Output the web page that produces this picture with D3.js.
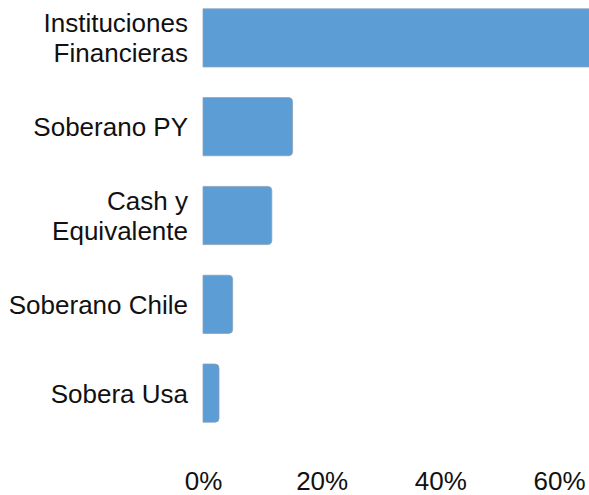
<!DOCTYPE html>
<html>
<head>
<meta charset="utf-8">
<script src="https://cdn.jsdelivr.net/npm/d3@7"></script>
<style>
  html, body { margin: 0; padding: 0; background: #ffffff; }
  text { font-family: "Liberation Sans", Arial, sans-serif; fill: #111111; }
</style>
</head>
<body>
<div id="chart"></div>
<script>
// data
const categories = [["Instituciones", "Financieras"], ["Soberano PY"], ["Cash y", "Equivalente"], ["Soberano Chile"], ["Sobera Usa"]];
const values = [66, 15.1, 11.6, 5.0, 2.7];
const tickValues = [0, 20, 40, 60];

const width = 589,
    height = 495;

const svg = d3.select("#chart")
    .append("svg")
    .attr("width", width)
    .attr("height", height);

const x = d3.scaleLinear()
    .domain([0, 60])
    .range([203, 559]);

const y = d3.scaleBand()
    .domain(d3.range(categories.length))
    .range([-6.5, 437.5])
    .paddingInner(0.345)
    .paddingOuter(0.1725);

// bar with rounded right end
const r = 4;
function barPath(i) {
    const x0 = x(0), x1 = x(values[i]), y0 = y(i), h = y.bandwidth();
    const rr = Math.min(r, (x1 - x0) / 2);
    return `M${x0},${y0}H${x1 - rr}Q${x1},${y0} ${x1},${y0 + rr}V${y0 + h - rr}Q${x1},${y0 + h} ${x1 - rr},${y0 + h}H${x0}Z`;
}

svg.selectAll("path.bar")
    .data(values)
    .join("path")
    .attr("class", "bar")
    .attr("d", (d, i) => barPath(i))
    .attr("fill", "#5b9dd4")
    .attr("stroke", "#8aa3bd")
    .attr("stroke-width", 0.8);

// category labels
const labels = svg.selectAll("text.cat")
    .data(categories)
    .join("text")
    .attr("class", "cat")
    .attr("text-anchor", "end")
    .style("font-size", "26px");

labels.each(function (lines, i) {
    const cy = y(i) + y.bandwidth() / 2;
    const lh = 30;
    const first = cy - (lines.length - 1) * lh / 2 + 9.5;
    d3.select(this).selectAll("tspan")
        .data(lines)
        .join("tspan")
        .attr("x", 188)
        .attr("y", (d, j) => first + j * lh)
        .text(d => d);
});

// x axis
const xAxis = d3.axisBottom(x)
    .tickValues(tickValues)
    .tickFormat(d => d + "%")
    .tickSize(0)
    .tickPadding(0);

const gx = svg.append("g")
    .attr("transform", "translate(0,471)")
    .call(xAxis);
gx.select(".domain").remove();
gx.selectAll("text")
    .attr("dy", "0.72em")
    .style("font-size", "26px")
    .style("font-family", "\"Liberation Sans\", Arial, sans-serif")
    .attr("fill", "#111111");
</script>
</body>
</html>
